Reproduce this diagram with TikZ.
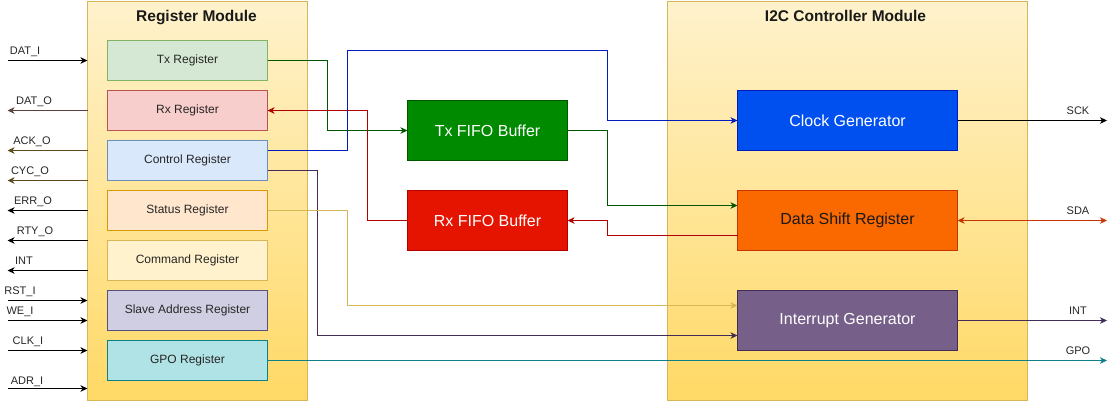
\documentclass[tikz,border=0pt]{standalone}
\usepackage{fontspec}
\setmainfont{Liberation Sans}
\usetikzlibrary{arrows.meta}
\definecolor{contfill}{HTML}{FFF2CC}
\definecolor{contbot}{HTML}{FFD966}
\definecolor{contline}{HTML}{D6B656}
\definecolor{txfill}{HTML}{D5E8D4}\definecolor{txline}{HTML}{82B366}
\definecolor{rxfill}{HTML}{F8CECC}\definecolor{rxline}{HTML}{B85450}
\definecolor{ctfill}{HTML}{DAE8FC}\definecolor{ctline}{HTML}{6C8EBF}
\definecolor{stfill}{HTML}{FFE6CC}\definecolor{stline}{HTML}{D79B00}
\definecolor{cmfill}{HTML}{FFF2CC}\definecolor{cmline}{HTML}{D6B656}
\definecolor{slfill}{HTML}{D0CEE2}\definecolor{slline}{HTML}{56517E}
\definecolor{gpfill}{HTML}{B0E3E6}\definecolor{gpline}{HTML}{0E8088}
\definecolor{gfill}{HTML}{008A00}\definecolor{gline}{HTML}{005700}
\definecolor{rfill}{HTML}{E51400}\definecolor{rline}{HTML}{B20000}
\definecolor{bfill}{HTML}{0050EF}\definecolor{bline}{HTML}{001DBC}
\definecolor{ofill}{HTML}{FA6800}\definecolor{oline}{HTML}{C73500}
\definecolor{pfill}{HTML}{76608A}\definecolor{pline}{HTML}{432D57}
\definecolor{brownA}{HTML}{5E4040}
\definecolor{brownB}{HTML}{5E4A1C}
\begin{document}
\begin{tikzpicture}[x=1pt,y=-1pt,
  >={Stealth[length=7pt,width=6.5pt,inset=2pt]},
  container/.style={draw=contline,line width=1pt,top color=contfill,bottom color=contbot,
    minimum height=399pt,inner sep=0pt,outer sep=0pt},
  regbox/.style={draw,line width=1pt,minimum width=160pt,minimum height=40pt,inner sep=0pt,outer sep=0pt,
    font=\fontsize{12}{14}\selectfont,text=black!85},
  bigbox/.style={draw,line width=1pt,minimum height=60pt,inner sep=0pt,outer sep=0pt,
    font=\fontsize{16}{19}\selectfont},
  titletext/.style={font=\bfseries\fontsize{15.5}{18}\selectfont,anchor=base,inner sep=0pt,text=black!90},
  siglabel/.style={font=\fontsize{11}{13}\selectfont,anchor=base,inner sep=0pt,text=black!85},
  sig/.style={line width=1pt},
  conn/.style={line width=1pt,->}
]
\useasboundingbox (0,0) rectangle (1118,402);

% containers
\node[container,minimum width=220pt] (regmod) at (197.5,200.5) {};
\node[container,minimum width=360pt] (i2c) at (847.5,200.5) {};
\node[titletext] (regtitle) at (196.5,21) {Register Module};
\node[titletext] (i2ctitle) at (845.5,21) {I2C Controller Module};

% registers
\node[regbox,draw=txline,fill=txfill] (txr) at (187.5,60.5) {Tx Register};
\node[regbox,draw=rxline,fill=rxfill] (rxr) at (187.5,110.5) {Rx Register};
\node[regbox,draw=ctline,fill=ctfill] (ctl) at (187.5,160.5) {Control Register};
\node[regbox,draw=stline,fill=stfill] (sts) at (187.5,210.5) {Status Register};
\node[regbox,draw=cmline,fill=cmfill] (cmd) at (187.5,260.5) {Command Register};
\node[regbox,draw=slline,fill=slfill] (sla) at (187.5,310.5) {Slave Address Register};
\node[regbox,draw=gpline,fill=gpfill] (gpo) at (187.5,360.5) {GPO Register};

% FIFOs
\node[bigbox,minimum width=160pt,draw=gline,fill=gfill,text=white] (txf) at (487.5,130.5) {Tx FIFO Buffer};
\node[bigbox,minimum width=160pt,draw=rline,fill=rfill,text=white] (rxf) at (487.5,220.5) {Rx FIFO Buffer};

% controller blocks
\node[bigbox,minimum width=220pt,draw=bline,fill=bfill,text=white] (clk) at (847.5,120.5) {Clock Generator};
\node[bigbox,minimum width=220pt,draw=oline,fill=ofill,text=black!90] (dsr) at (847.5,220.5) {Data Shift Register};
\node[bigbox,minimum width=220pt,draw=pline,fill=pfill,text=white] (ig) at (847.5,320.5) {Interrupt Generator};

% internal connectors
\draw[conn,draw=gline] (txr.east) -- (327.5,60.5) |- (txf.west);
\draw[conn,draw=rline] (rxf.west) -- (367.5,220.5) |- (rxr.east);
\draw[conn,draw=bline] ([yshift=10pt]ctl.east) -- (347.5,150.5) |- (607.5,50.5) |- (clk.west);
\draw[conn,draw=gline] (txf.east) -- (607.5,130.5) |- ([yshift=15pt]dsr.west);
\draw[conn,draw=rline] ([yshift=-15pt]dsr.west) -- (607.5,235.5) |- (rxf.east);
\draw[conn,draw=pline] ([yshift=-10pt]ctl.east) -- (317.5,170.5) |- ([yshift=-15pt]ig.west);
\draw[conn,draw=contline] (sts.east) -- (347.5,210.5) |- ([yshift=15pt]ig.west);

% outputs on the right
\coordinate (sck) at (1107,120.5);
\coordinate (sda) at (1107,220.5);
\coordinate (into) at (1107,320.5);
\coordinate (gpoo) at (1107,360.5);
\draw[conn,draw=black] (clk.east) -- (sck);
\draw[line width=1pt,<->,draw=oline] (dsr.east) -- (sda);
\draw[conn,draw=pline] (ig.east) -- (into);
\draw[conn,draw=gpline] (gpo.east) -- (gpoo);
\node[siglabel] (lsck) at (1078,114) {SCK};
\node[siglabel] (lsda) at (1078,214) {SDA};
\node[siglabel] (lint) at (1078,314) {INT};
\node[siglabel] (lgpo) at (1078,354) {GPO};

% left signals
\coordinate (datI) at (7.5,60.5);
\coordinate (datO) at (7.5,110.5);
\coordinate (ackO) at (7.5,150.5);
\coordinate (cycO) at (7.5,180.5);
\coordinate (errO) at (7.5,210.5);
\coordinate (rtyO) at (7.5,240.5);
\coordinate (intO) at (7.5,270.5);
\coordinate (rstI) at (7.5,300.5);
\coordinate (weI) at (7.5,320.5);
\coordinate (clkI) at (7.5,350.5);
\coordinate (adrI) at (7.5,388.5);
\draw[sig,->] (datI) -- (datI -| regmod.west);
\draw[sig,->,draw=brownA] (datO -| regmod.west) -- (datO);
\draw[sig,->,draw=brownB] (ackO -| regmod.west) -- (ackO);
\draw[sig,->,draw=brownB] (cycO -| regmod.west) -- (cycO);
\draw[sig,->] (errO -| regmod.west) -- (errO);
\draw[sig,->] (rtyO -| regmod.west) -- (rtyO);
\draw[sig,->] (intO -| regmod.west) -- (intO);
\draw[sig,->] (rstI) -- (rstI -| regmod.west);
\draw[sig,->] (weI) -- (weI -| regmod.west);
\draw[sig,->] (clkI) -- (clkI -| regmod.west);
\draw[sig,->] (adrI) -- (adrI -| regmod.west);
\node[siglabel] (ldatI) at (25,54) {DAT\_I};
\node[siglabel] (ldatO) at (34,104) {DAT\_O};
\node[siglabel] (lackO) at (32,144) {ACK\_O};
\node[siglabel] (lcycO) at (30,174) {CYC\_O};
\node[siglabel] (lerrO) at (33,204) {ERR\_O};
\node[siglabel] (lrtyO) at (35,234) {RTY\_O};
\node[siglabel] (lintO) at (24,264) {INT};
\node[siglabel] (lrstI) at (20,294) {RST\_I};
\node[siglabel] (lweI) at (20,314) {WE\_I};
\node[siglabel] (lclkI) at (28,344) {CLK\_I};
\node[siglabel] (ladrI) at (27,384) {ADR\_I};
\end{tikzpicture}
\end{document}
